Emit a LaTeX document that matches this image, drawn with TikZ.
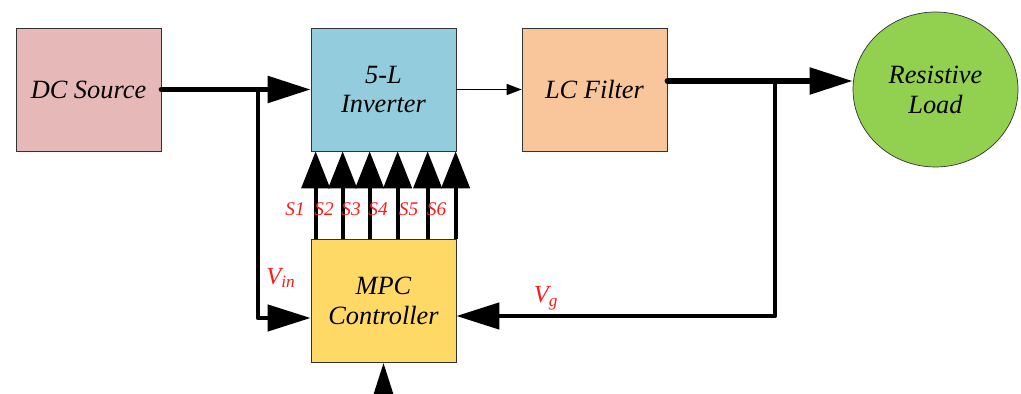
\documentclass[tikz,border=0pt]{standalone}
\usepackage{fontspec}
\setmainfont{Liberation Serif}
\usepackage{xcolor}
\usepackage{tikz}
\usetikzlibrary{arrows.meta,positioning,shapes.geometric,calc}

\definecolor{srcpink}{HTML}{E6B9B8}
\definecolor{invblue}{HTML}{93CDDD}
\definecolor{lcorange}{HTML}{F9C59B}
\definecolor{loadgreen}{HTML}{92D050}
\definecolor{mpcyellow}{HTML}{FFD966}
\definecolor{sigred}{HTML}{FF1A1A}

\begin{document}
\begin{tikzpicture}[
    x=0.02cm, y=-0.02cm,
    every node/.style={font=\itshape\fontsize{15}{17}\selectfont},
    block/.style    ={rectangle,draw=black!80,thin,
                     minimum width=2.9cm,minimum height=2.46cm,
                     inner sep=1pt,align=center},
    loadnode/.style ={ellipse,draw=black!80,thin,fill=loadgreen,
                     minimum width=3.3cm,minimum height=3.1cm,
                     inner sep=0pt,align=center},
    bus/.style      ={line width=0.11cm,line join=round,line cap=round,
                     -{Triangle[length=0.86cm,width=0.52cm]}},
    feed/.style     ={line width=0.09cm,line join=round,
                     -{Triangle[length=0.86cm,width=0.52cm]}},
    gate/.style     ={line width=0.08cm,
                     -{Triangle[length=0.74cm,width=0.56cm]}},
    signal/.style   ={thick,-{Triangle[length=0.3cm,width=0.22cm]}},
    siglabel/.style ={text=sigred,font=\itshape\fontsize{11}{13}\selectfont},
    varlabel/.style ={text=sigred,font=\itshape\fontsize{14}{16}\selectfont},
  ]
  \useasboundingbox (0,0) rectangle (1021,394);

  % --- blocks ---
  \node[block,fill=srcpink]   (dcsrc) at ( 88.5, 89.5) {DC Source};
  \node[block,fill=invblue]   (inv)   at (383.5, 89.5) {5-L\\Inverter};
  \node[block,fill=lcorange]  (lcf)   at (594.5, 89.5) {LC Filter};
  \node[loadnode]             (load)  at (935.5, 89.5) {Resistive\\Load};
  \node[block,fill=mpcyellow] (mpc)   at (383.5,301.0) {MPC\\Controller};

  % --- power path ---
  \coordinate (jl) at (258,90);
  \coordinate (lo) at ([yshift=0.17cm]lcf.east);
  \coordinate (jr) at (775,81);
  \draw[bus] (dcsrc.east) -- (inv.west);
  \draw[signal] (inv.east) -- (lcf.west);
  \draw[bus] (lo) -- (lo -| load.west);

  % --- measurements back to the controller ---
  \draw[feed] (jl) |- ([yshift=-0.34cm]mpc.west);
  \draw[feed] (jr) |- ([yshift=-0.30cm]mpc.east);
  \node[varlabel] (vin) at (281,278) {V\textsubscript{in}};
  \node[varlabel] (vg)  at (546,298) {V\textsubscript{g}};

  % --- switching signals ---
  \foreach \dx/\lab/\gap in {0.10/S1/0.06,0.64/S2/0.02,1.18/S3/0.02,
                             1.74/S4/0.04,2.34/S5/0.03,2.90/S6/0.03}
    \draw[gate] ([xshift=\dx cm]mpc.north west)
      -- ([xshift=\dx cm]inv.south west)
      node[siglabel,pos=0.34,left=\gap cm] {\lab};

  % --- reference input ---
  \coordinate (ref) at (383.5,420);
  \draw[feed] (ref) -- (mpc.south);
\end{tikzpicture}
\end{document}
